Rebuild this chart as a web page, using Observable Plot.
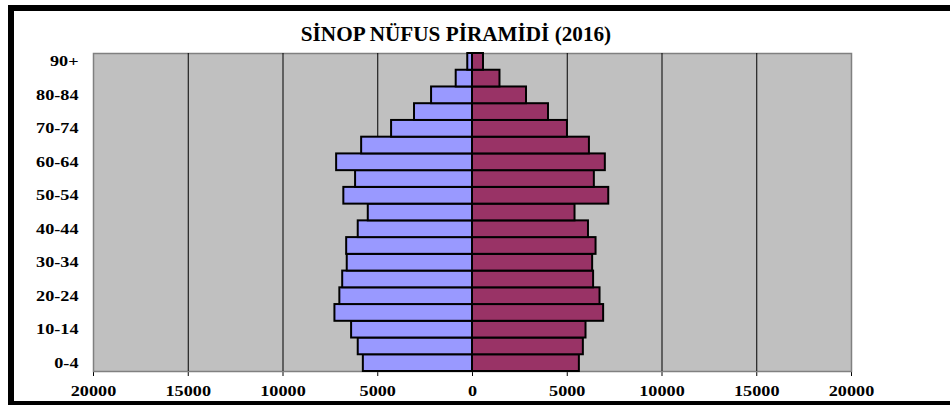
<!DOCTYPE html>
<html>
<head>
<meta charset="utf-8">
<script src="https://cdn.jsdelivr.net/npm/d3@7"></script>
<script src="https://cdn.jsdelivr.net/npm/@observablehq/plot@0.6"></script>
<style>
  body { margin: 0; background: #fff; }
  #wrap { position: relative; width: 950px; height: 405px; overflow: hidden; background: #fff; }
  #frame { position: absolute; left: 8px; top: 5px; width: 1000px; height: 390px; border: 6px solid #000; border-right: none; pointer-events: none; }
  #title { position: absolute; left: 0; top: 24px; width: 912px; text-align: center; font-family: "Liberation Serif", "Times New Roman", serif; font-weight: bold; font-size: 20px; line-height: 20px; color: #000; transform: scaleX(1.06); transform-origin: 456px 50%; }
  #chart { position: absolute; left: 0; top: 0; }
</style>
</head>
<body>
<div id="wrap">
  <div id="chart"></div>
  <div id="title"></div>
  <div id="frame"></div>
</div>
<script>
const titleText = "SİNOP NÜFUS PİRAMİDİ (2016)";
const ages = ["0-4","5-9","10-14","15-19","20-24","25-29","30-34","35-39","40-44","45-49","50-54","55-59","60-64","65-69","70-74","75-79","80-84","85-89","90+"];
const male = [5760, 6030, 6380, 7260, 7000, 6850, 6610, 6640, 6030, 5500, 6790, 6170, 7170, 5850, 4270, 3060, 2160, 860, 250];
const female = [5640, 5850, 5990, 6920, 6730, 6390, 6340, 6520, 6120, 5410, 7190, 6430, 7010, 6170, 5010, 4010, 2850, 1450, 580];
const yLabels = ["0-4","10-14","20-24","30-34","40-44","50-54","60-64","70-74","80-84","90+"];
const xTicks = [-20000,-15000,-10000,-5000,0,5000,10000,15000,20000];
const gridX = [-15000,-10000,-5000,5000,10000,15000];

const rows = ages.map((a, i) => ({age: a, male: male[i], female: female[i]}));

document.getElementById("title").textContent = titleText;

const chart = Plot.plot({
  width: 950,
  height: 405,
  marginLeft: 93,
  marginRight: 99,
  marginTop: 53,
  marginBottom: 34,
  style: { fontFamily: "'Liberation Serif', 'Times New Roman', serif", fontSize: "14px", fontWeight: "bold", background: "transparent", color: "#000", overflow: "visible" },
  x: { domain: [-20000, 20000], ticks: xTicks, tickFormat: d => String(Math.abs(d)), tickSize: 5, tickPadding: 10, label: null },
  y: { domain: ages.slice().reverse(), padding: 0, round: false, tickSize: 0, tickPadding: 15, tickFormat: d => yLabels.includes(d) ? d : "", label: null },
  marks: [
    Plot.frame({ fill: "#c0c0c0", stroke: "#808080", strokeWidth: 1.5 }),
    Plot.ruleX(gridX, { stroke: "#000", strokeWidth: 1 }),
    Plot.barX(rows, { y: "age", x1: d => -d.male, x2: 0, fill: "#9999ff", stroke: "#000", strokeWidth: 2 }),
    Plot.barX(rows, { y: "age", x1: 0, x2: "female", fill: "#993366", stroke: "#000", strokeWidth: 2 })
  ]
});
document.getElementById("chart").appendChild(chart);

// stretch axis label glyphs horizontally around their own anchor point
const S = 1.3;
chart.querySelectorAll("text").forEach(t => {
  const b = t.getBBox();
  if (!b.width) return;
  const anchor = getComputedStyle(t).textAnchor;
  const ax = anchor === "end" ? b.x + b.width : anchor === "middle" ? b.x + b.width / 2 : b.x;
  const tr = t.getAttribute("transform") || "";
  t.setAttribute("transform", `${tr} translate(${ax},0) scale(${S},1) translate(${-ax},0)`);
});
</script>
</body>
</html>
